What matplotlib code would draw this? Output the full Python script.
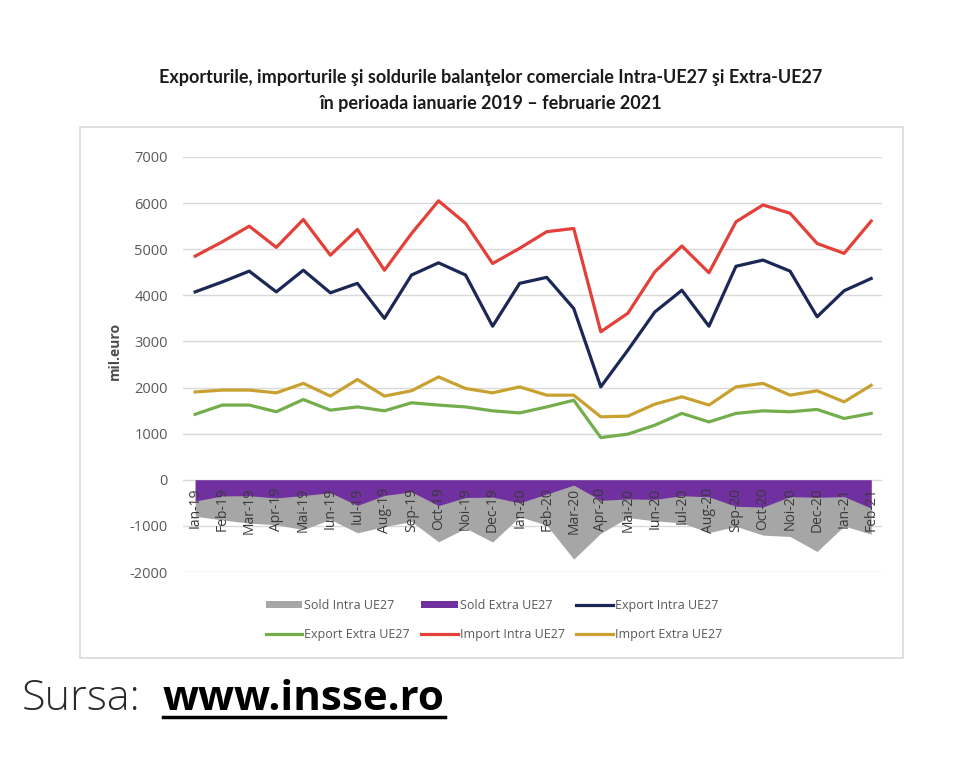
import matplotlib
matplotlib.use("Agg")
import matplotlib.pyplot as plt
from matplotlib.patches import Rectangle, Patch
from matplotlib.lines import Line2D

months = ["Ian-19", "Feb-19", "Mar-19", "Apr-19", "Mai-19", "Iun-19", "Iul-19", "Aug-19",
          "Sep-19", "Oct-19", "Noi-19", "Dec-19", "Ian-20", "Feb-20", "Mar-20", "Apr-20",
          "Mai-20", "Iun-20", "Iul-20", "Aug-20", "Sep-20", "Oct-20", "Noi-20", "Dec-20",
          "Ian-21", "Feb-21"]

import_intra = [4850, 5160, 5500, 5040, 5645, 4870, 5430, 4545, 5340, 6050, 5560, 4690, 5020,
                5380, 5450, 3210, 3610, 4510, 5070, 4490, 5595, 5960, 5780, 5125, 4910, 5610]
export_intra = [4075, 4290, 4525, 4075, 4545, 4055, 4260, 3500, 4440, 4705, 4440, 3330, 4260,
                4390, 3715, 2015, 2810, 3640, 4110, 3330, 4630, 4765, 4525, 3535, 4100, 4365]
import_extra = [1905, 1945, 1945, 1885, 2090, 1815, 2175, 1815, 1930, 2230, 1980, 1885, 2015,
                1835, 1835, 1365, 1380, 1640, 1800, 1620, 2015, 2090, 1835, 1930, 1690, 2050]
export_extra = [1420, 1620, 1620, 1475, 1740, 1510, 1580, 1495, 1670, 1620, 1580, 1495, 1450,
                1580, 1725, 915, 990, 1185, 1440, 1255, 1440, 1495, 1475, 1525, 1330, 1440]
sold_intra = [-790, -870, -940, -975, -1080, -860, -1150, -1015, -905, -1345, -1050, -1350, -800,
              -985, -1720, -1160, -820, -890, -935, -1145, -1010, -1200, -1230, -1555, -1000, -1180]
sold_extra = [-460, -350, -345, -395, -340, -280, -555, -340, -260, -560, -385, -375, -500,
              -310, -115, -445, -415, -425, -345, -370, -575, -590, -365, -380, -365, -615]

yticks = [-2000, -1000, 0, 1000, 2000, 3000, 4000, 5000, 6000, 7000]

W, H = 973, 764
fig = plt.figure(figsize=(W / 100, H / 100), dpi=100)
fig.patch.set_facecolor("white")

# chart border
fig.patches.append(Rectangle((80 / W, 1 - 658 / H), (903 - 80) / W, (658 - 127) / H,
                             transform=fig.transFigure, fill=False, edgecolor="#d9d9d9", lw=1.2))

ax = fig.add_axes([183 / W, 1 - 572 / H, (882 - 183) / W, (572 - 157) / H])
x = list(range(len(months)))

ax.set_ylim(-2000, 7000)
ax.set_xlim(-0.45, 25.4)
ax.set_yticks(yticks)
ax.set_yticklabels([str(v) for v in yticks], fontsize=10.5, color="#595959", family="Open Sans")
ax.tick_params(axis="y", length=0, pad=11)
ax.set_xticks([])
for s in ax.spines.values():
    s.set_visible(False)
ax.grid(axis="y", color="#d9d9d9", lw=1)
ax.set_axisbelow(True)

c_gray = "#a6a6a6"
c_purple = "#7030a0"
c_navy = "#1b2755"
c_green = "#74ae4c"
c_red = "#e3403a"
c_gold = "#c8a130"

ax.fill_between(x, 0, sold_intra, color=c_gray, lw=0, zorder=2)
ax.fill_between(x, 0, sold_extra, color=c_purple, lw=0, zorder=3)

lw = 2.3
ax.plot(x, export_intra, color=c_navy, lw=lw, zorder=5)
ax.plot(x, export_extra, color=c_green, lw=lw, zorder=5)
ax.plot(x, import_intra, color=c_red, lw=lw, zorder=5)
ax.plot(x, import_extra, color=c_gold, lw=lw, zorder=5)

for i, m in enumerate(months):
    ax.text(i, -170, m, rotation=90, ha="center", va="top", fontsize=10,
            color="#3a3a3a", family="Open Sans", zorder=6)

fig.text(115 / W, 1 - 351 / H, "mil.euro", rotation=90, ha="center", va="center",
         fontsize=10, fontweight="bold", color="#4a4a4a", family="Open Sans")

fig.text(491 / W, 1 - 78 / H, "Exporturile, importurile şi soldurile balanţelor comerciale Intra-UE27 şi Extra-UE27",
         ha="center", va="center", fontsize=13, fontweight="bold", color="#1a1a1a", family="Lato")
fig.text(491 / W, 1 - 103 / H, "în perioada ianuarie 2019 – februarie 2021",
         ha="center", va="center", fontsize=13, fontweight="bold", color="#1a1a1a", family="Lato")

handles = [
    Patch(facecolor=c_gray, edgecolor="none"),
    Line2D([], [], color=c_green, lw=lw),
    Patch(facecolor=c_purple, edgecolor="none"),
    Line2D([], [], color=c_red, lw=lw),
    Line2D([], [], color=c_navy, lw=lw),
    Line2D([], [], color=c_gold, lw=lw),
]
labels = ["Sold Intra UE27", "Export Extra UE27", "Sold Extra UE27",
          "Import Intra UE27", "Export Intra UE27", "Import Extra UE27"]
leg = fig.legend(handles, labels, ncol=3, loc="center", bbox_to_anchor=(494 / W, 1 - 620 / H),
                 frameon=False, handlelength=2.9, handleheight=0.45,
                 handletextpad=0.2, columnspacing=0.9, labelspacing=1.25,
                 prop={"family": "Open Sans", "size": 9})
for t in leg.get_texts():
    t.set_color("#595959")

fig.text(22 / W, 1 - 710 / H, "Sursa:", ha="left", va="baseline", fontsize=31,
         fontweight="light", color="#2a2a2a", family="Open Sans")
t2 = fig.text(163 / W, 1 - 710 / H, "www.insse.ro", ha="left", va="baseline", fontsize=30.3,
              fontweight="bold", color="#000000", family="Open Sans")
fig.canvas.draw()
bb = t2.get_window_extent()
fig.add_artist(Line2D([bb.x0 / W, bb.x1 / W], [1 - 717 / H, 1 - 717 / H],
                      transform=fig.transFigure, color="black", lw=2.5))

fig.savefig("out.png", dpi=100)
